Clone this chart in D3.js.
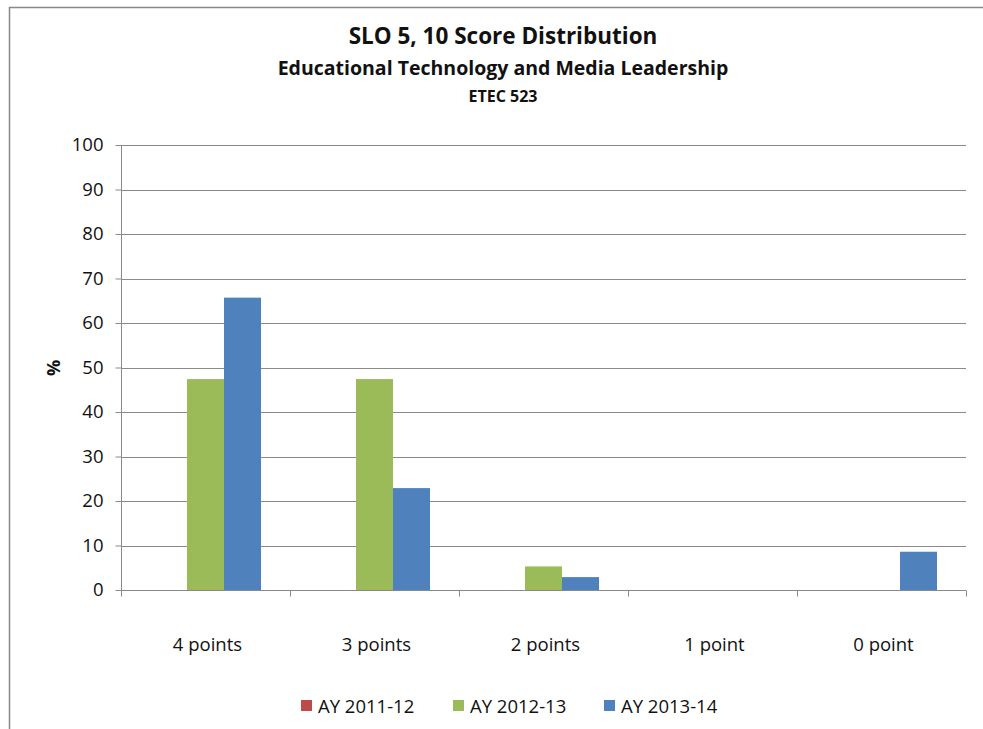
<!DOCTYPE html>
<html><head><meta charset="utf-8">
<script src="https://cdn.jsdelivr.net/npm/d3@7/dist/d3.min.js"></script>
<style>body{margin:0;background:#fff;}svg{display:block;}text{font-family:"Open Sans",sans-serif;}</style>
</head><body><svg id="c" width="983" height="729"></svg>
<script>
const categories = ["4 points","3 points","2 points","1 point","0 point"];
const seriesNames = ["AY 2011-12","AY 2012-13","AY 2013-14"];
const ay1112 = [0,0,0,0,0];
const ay1213 = [47.4,47.4,5.3,0,0];
const ay1314 = [65.7,22.9,2.9,0,8.6];
const yTicks = [0,10,20,30,40,50,60,70,80,90,100];
const colors = ["#BE4B48","#9BBB59","#4F81BD"];
const values = [ay1112, ay1213, ay1314];

const svg = d3.select("#c");
// frame
svg.append("path").attr("d","M9.5,729 L9.5,7.5 L983,7.5").attr("fill","none").attr("stroke","#888").attr("stroke-width",1.5);

const x0 = d3.scaleBand().domain(categories).range([121,966]);
const x1 = d3.scaleBand().domain(seriesNames).range([0,111]);
const y = d3.scaleLinear().domain([0,100]).range([590,145]);

// gridlines
svg.append("g").selectAll("line").data(yTicks.slice(1)).join("line")
  .attr("x1",121).attr("x2",966).attr("y1",d=>Math.round(y(d))+0.5).attr("y2",d=>Math.round(y(d))+0.5)
  .attr("stroke","#8a8a8a").attr("stroke-width",1);

// bars
const groups = svg.append("g").selectAll("g").data(categories).join("g")
  .attr("transform",d=>`translate(${x0(d)+(x0.bandwidth()-111)/2},0)`);
groups.selectAll("rect").data((c,i)=>seriesNames.map((s,j)=>({s,v:values[j][i],j}))).join("rect")
  .attr("x",d=>x1(d.s)).attr("width",x1.bandwidth())
  .attr("y",d=>y(d.v)).attr("height",d=>y(0)-y(d.v))
  .attr("fill",d=>colors[d.j]);

// y axis
const ya = d3.axisLeft(y).tickValues(yTicks).tickSize(6).tickPadding(12);
const gy = svg.append("g").attr("transform","translate(121.5,0)").call(ya);
gy.select(".domain").attr("stroke","#8a8a8a").attr("d","M0,145V590");
gy.selectAll(".tick line").attr("stroke","#8a8a8a");
gy.selectAll("text").attr("font-size",18.5).attr("fill","#111");

// x axis
const gx = svg.append("g").attr("transform","translate(0,590.5)");
gx.append("line").attr("x1",121).attr("x2",966).attr("stroke","#8a8a8a");
gx.selectAll(".tk").data(categories.map(c=>x0(c)).concat([966])).join("line")
  .attr("x1",d=>Math.round(d)+0.5).attr("x2",d=>Math.round(d)+0.5).attr("y1",0).attr("y2",6).attr("stroke","#8a8a8a");
gx.selectAll("text").data(categories).join("text")
  .attr("x",d=>x0(d)+x0.bandwidth()/2+2).attr("y",60).attr("text-anchor","middle")
  .attr("font-size",18.5).attr("fill","#111").text(d=>d);

// y label
svg.append("text").attr("transform","translate(60,368) rotate(-90)").attr("text-anchor","middle")
  .attr("font-size",18).attr("font-weight","bold").attr("fill","#111").text("%");

// titles
svg.append("text").attr("x",503).attr("y",44).attr("text-anchor","middle").attr("font-size",22.5).attr("font-weight","bold").attr("fill","#111").text("SLO 5, 10 Score Distribution");
svg.append("text").attr("x",503).attr("y",75).attr("text-anchor","middle").attr("font-size",19.5).attr("font-weight","bold").attr("fill","#111").text("Educational Technology and Media Leadership");
svg.append("text").attr("x",503).attr("y",102).attr("text-anchor","middle").attr("font-size",16).attr("font-weight","bold").attr("fill","#111").text("ETEC 523");

// legend
const lx = [301,453,604];
const lg = svg.append("g").selectAll("g").data(seriesNames).join("g").attr("transform",(d,i)=>`translate(${lx[i]},700)`);
lg.append("rect").attr("width",11).attr("height",11).attr("fill",(d,i)=>colors[i]);
lg.append("text").attr("x",17).attr("y",13).attr("font-size",18.5).attr("fill","#111").text(d=>d);
</script></body></html>
